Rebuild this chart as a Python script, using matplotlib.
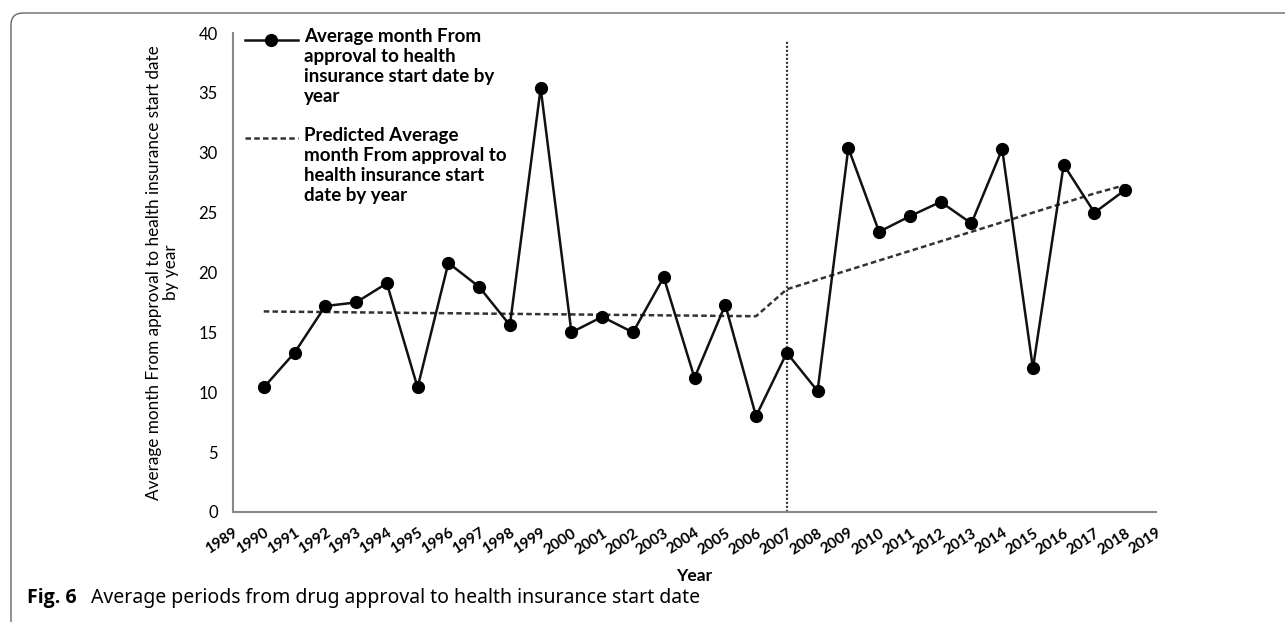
import numpy as np
import matplotlib
matplotlib.use("Agg")
import matplotlib.pyplot as plt
from matplotlib.patches import FancyBboxPatch
from matplotlib.lines import Line2D

plt.rcParams['font.family'] = ['Lato', 'DejaVu Sans']

# data
years = list(range(1990, 2019))
avg_month = [10.4, 13.3, 17.2, 17.5, 19.1, 10.4, 20.8, 18.8, 15.6, 35.4,
             15.0, 16.3, 15.0, 19.6, 11.2, 17.3, 8.0, 13.3, 10.1, 30.4,
             23.4, 24.7, 25.9, 24.1, 30.3, 12.0, 29.0, 25.0, 26.9]
predicted = [16.75, 16.72, 16.70, 16.67, 16.65, 16.62, 16.60, 16.57, 16.55, 16.52,
             16.50, 16.47, 16.45, 16.42, 16.40, 16.37, 16.35, 18.6, 19.4, 20.2,
             21.0, 21.8, 22.6, 23.4, 24.2, 25.0, 25.8, 26.6, 27.3]
tick_years = list(range(1989, 2020))
split_year = 2007

label_obs = "Average month From\napproval to health\ninsurance start date by\nyear"
label_pred = "Predicted Average\nmonth From approval to\nhealth insurance start\ndate by year"

fig = plt.figure(figsize=(12.85, 6.22), dpi=100)
ax = fig.add_axes([233 / 1285, 1 - 512 / 622, 923 / 1285, 479 / 622])

ax.plot(years, predicted, color="#333333", lw=1.8, linestyle=(0, (2.2, 1.3)), zorder=2)
ax.plot(years, avg_month, color="#111111", lw=1.8, marker="o", markersize=8.5,
        markerfacecolor="black", markeredgecolor="black", zorder=3)
ax.axvline(split_year, ymin=0, ymax=39.3 / 40, color="#444444", lw=1.6,
           linestyle=(0, (1, 0.8)), zorder=1)

ax.set_xlim(1989, 2019)
ax.set_ylim(0, 40)
ax.set_yticks(np.arange(0, 41, 5))
ax.set_xticks(tick_years)
ax.set_xticklabels([str(y) for y in tick_years], rotation=33, ha="right", va="top",
                   rotation_mode="anchor", fontsize=11, fontweight="bold")
ax.tick_params(axis="both", length=0)
ax.tick_params(axis="y", labelsize=12, pad=11)
ax.tick_params(axis="x", pad=10)

for s in ["top", "right"]:
    ax.spines[s].set_visible(False)
for s in ["left", "bottom"]:
    ax.spines[s].set_color("#888888")
    ax.spines[s].set_linewidth(1.5)

ax.set_ylabel("Average month From approval to health insurance start date\nby year",
              fontsize=12.3, labelpad=14, linespacing=1.1)
ax.set_xlabel("Year", fontsize=12.5, fontweight="bold", labelpad=8)

# legend drawn by hand so the handles sit on the first text line
ax.add_line(Line2D([0.013, 0.070], [0.985, 0.985], transform=ax.transAxes,
                   color="#111111", lw=1.8, clip_on=False))
ax.add_line(Line2D([0.041], [0.985], transform=ax.transAxes, marker="o",
                   markersize=8.5, color="black", clip_on=False))
ax.add_line(Line2D([0.013, 0.070], [0.781, 0.781], transform=ax.transAxes,
                   color="#333333", lw=1.8, linestyle=(0, (2.2, 1.3)), clip_on=False))
ax.text(0.077, 1.010, label_obs, transform=ax.transAxes, ha="left", va="top",
        fontsize=13.5, fontweight="bold", linespacing=1.2)
ax.text(0.077, 0.803, label_pred, transform=ax.transAxes, ha="left", va="top",
        fontsize=13.5, fontweight="bold", linespacing=1.2)

# caption
fig.text(27 / 1285, 1 - 603 / 622, "Fig. 6", fontsize=14, fontweight="bold",
         family=["Open Sans", "DejaVu Sans"], va="baseline", ha="left")
fig.text(91 / 1285, 1 - 603 / 622,
         "Average periods from drug approval to health insurance start date",
         fontsize=14, family=["Noto Sans", "DejaVu Sans"], va="baseline", ha="left")

# rounded frame around the figure panel (right and bottom run off the canvas)
frame = FancyBboxPatch((0.11, -0.10), 13.0, 6.19, boxstyle="round,pad=0,rounding_size=0.12",
                       transform=fig.dpi_scale_trans, facecolor="none",
                       edgecolor="#666666", lw=1.0, clip_on=False)
fig.add_artist(frame)

fig.savefig("out.png", dpi=100)
